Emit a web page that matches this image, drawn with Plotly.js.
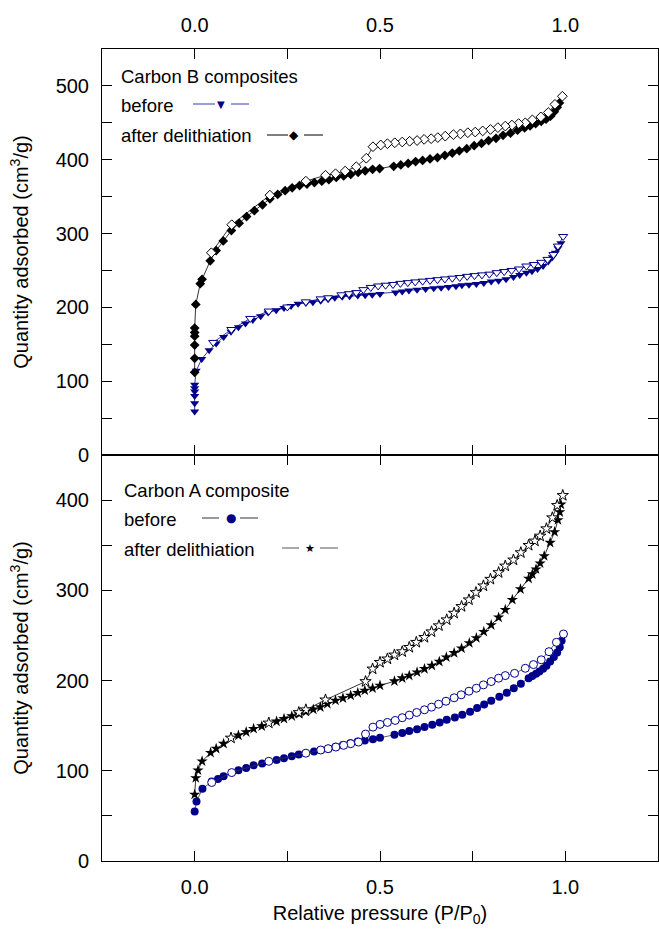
<!DOCTYPE html>
<html>
<head>
<meta charset="utf-8">
<script src="https://cdn.plot.ly/plotly-3.0.1.min.js"></script>
<style>html,body{margin:0;padding:0;background:#fff;}#chart{width:659px;height:930px;}</style>
</head>
<body>
<div id="chart"></div>
<script>
// ---------------- DATA ----------------
// axis ticks (labelled major ticks, unlabelled minor ticks)
const xTickVals = [0, 0.5, 1.0];
const xTickText = ['0.0', '0.5', '1.0'];
const xMinorVals = [-0.25, 0.25, 0.75, 1.25];
const yTopTickVals = [0, 100, 200, 300, 400, 500];
const yTopTickText = ['0', '100', '200', '300', '400', '500'];
const yTopMinorVals = [50, 150, 250, 350, 450, 550];
const yBotTickVals = [0, 100, 200, 300, 400];
const yBotTickText = ['0', '100', '200', '300', '400'];
const yBotMinorVals = [50, 150, 250, 350, 450];

// Top panel: Carbon B composites
// before - adsorption (filled triangles)
const bBeforeAdsP = [0, 0, 0, 0, 0, 0, 0.004, 0.019, 0.039, 0.058, 0.078, 0.098, 0.118, 0.137, 0.157, 0.178, 0.198, 0.22, 0.241, 0.26, 0.279, 0.3, 0.319, 0.34, 0.36, 0.378, 0.398, 0.418, 0.44, 0.46, 0.479, 0.5, 0.542, 0.56, 0.578, 0.6, 0.623, 0.645, 0.665, 0.685, 0.705, 0.721, 0.74, 0.76, 0.78, 0.8, 0.82, 0.84, 0.86, 0.877, 0.895, 0.91, 0.925, 0.94, 0.954, 0.965, 0.973, 0.98, 0.988];
const bBeforeAdsV = [59, 70, 80, 86, 90.5, 95, 114, 130, 142, 151, 160, 167, 173, 178, 183, 188, 193, 196, 199, 202, 205, 206, 207, 209, 211, 213, 214.5, 215, 216, 216.5, 217, 218, 220, 221.5, 223, 224, 225, 226, 226.5, 227.5, 228.5, 230, 230.5, 231.5, 233, 235, 236, 238, 241, 244, 247, 249, 252, 256, 262, 268, 274, 280, 287];
// before - desorption (open triangles)
const bBeforeDesP = [0.994, 0.98, 0.968, 0.952, 0.935, 0.915, 0.895, 0.875, 0.855, 0.835, 0.815, 0.795, 0.775, 0.755, 0.735, 0.715, 0.695, 0.675, 0.655, 0.635, 0.615, 0.595, 0.575, 0.555, 0.535, 0.515, 0.495, 0.475, 0.455, 0.436, 0.416, 0.396, 0.36, 0.34, 0.3, 0.25, 0.2, 0.15, 0.099, 0.05];
const bBeforeDesV = [296, 283, 271.5, 265, 261, 258, 256, 252, 250, 248.5, 247, 245, 244, 243, 242, 240.5, 239.5, 238.5, 237.5, 236.5, 235.5, 234.5, 233.5, 232.5, 231, 230, 229, 227, 224, 220, 218.5, 217, 213, 211.5, 207.5, 200.5, 195, 185, 170, 152.5];
// after delithiation - adsorption (filled diamonds)
const bAfterAdsP = [0, 0, 0, 0, 0, 0, 0.003, 0.015, 0.02, 0.042, 0.058, 0.077, 0.099, 0.12, 0.14, 0.161, 0.183, 0.203, 0.224, 0.244, 0.263, 0.283, 0.303, 0.323, 0.343, 0.362, 0.382, 0.402, 0.421, 0.441, 0.46, 0.48, 0.499, 0.537, 0.556, 0.576, 0.596, 0.615, 0.635, 0.655, 0.675, 0.695, 0.714, 0.734, 0.754, 0.774, 0.793, 0.813, 0.832, 0.852, 0.871, 0.89, 0.905, 0.92, 0.935, 0.948, 0.96, 0.97, 0.978, 0.984];
const bAfterAdsV = [112, 131, 149, 161, 166, 172, 204, 232, 238, 263, 277, 290, 304, 314, 323, 331, 339, 347, 353, 358, 362, 365, 367, 369, 371, 373, 376, 378, 380, 383, 385, 387, 388, 391, 393, 395, 397.5, 399, 401, 403, 406, 409, 412, 415, 419, 422, 426, 429, 433, 436, 440, 443, 446, 449, 452, 455, 459, 465, 471, 477];
// after delithiation - desorption (open diamonds)
const bAfterDesP = [0.992, 0.972, 0.954, 0.934, 0.911, 0.892, 0.874, 0.856, 0.838, 0.818, 0.798, 0.777, 0.757, 0.737, 0.717, 0.698, 0.676, 0.656, 0.638, 0.619, 0.6, 0.58, 0.56, 0.54, 0.52, 0.502, 0.481, 0.463, 0.436, 0.406, 0.38, 0.353, 0.3, 0.203, 0.1, 0.045];
const bAfterDesV = [486, 475, 464, 458, 454, 450, 449, 447, 445.6, 443.5, 441, 439, 437.5, 436.6, 435, 434, 432, 430, 428.5, 427.6, 426, 425, 424, 423, 421.7, 420, 417.6, 402, 390.5, 384.6, 381, 379, 371, 352, 312, 274];

// Bottom panel: Carbon A composite
// before - adsorption (filled circles)
const aBeforeAdsP = [0, 0.005, 0.021, 0.046, 0.063, 0.078, 0.118, 0.139, 0.159, 0.182, 0.221, 0.241, 0.262, 0.281, 0.322, 0.341, 0.361, 0.38, 0.4, 0.42, 0.44, 0.459, 0.481, 0.5, 0.539, 0.56, 0.579, 0.6, 0.62, 0.641, 0.661, 0.68, 0.702, 0.722, 0.743, 0.762, 0.781, 0.8, 0.822, 0.842, 0.861, 0.88, 0.901, 0.911, 0.921, 0.93, 0.94, 0.949, 0.959, 0.969, 0.978, 0.985, 0.99];
const aBeforeAdsV = [55, 66, 80, 88, 91, 94, 100.5, 103, 106, 108, 112, 114, 116, 118, 121.5, 123, 124.5, 126.5, 128.5, 130.5, 132.5, 133.5, 135, 136.5, 140, 142, 144, 146, 148.5, 151, 153.5, 156.5, 159, 162, 165.5, 169.5, 173.5, 177.5, 182, 186.5, 191.5, 196.5, 202.5, 205, 207.5, 210, 213, 216.5, 221, 226, 231, 237, 244];
// before - desorption (open circles)
const aBeforeDesP = [0.995, 0.976, 0.956, 0.935, 0.914, 0.892, 0.863, 0.838, 0.82, 0.8, 0.779, 0.76, 0.74, 0.719, 0.7, 0.678, 0.658, 0.639, 0.62, 0.599, 0.579, 0.56, 0.541, 0.52, 0.5, 0.481, 0.461, 0.442, 0.421, 0.402, 0.381, 0.36, 0.34, 0.3, 0.2, 0.1, 0.046];
const aBeforeDesV = [251.6, 242.4, 232, 223, 217.7, 213.6, 208, 205.5, 202.6, 198.9, 195.2, 191.5, 188.2, 184.2, 180.9, 177.1, 173.8, 170.5, 167.6, 164.6, 161.7, 158.8, 155.8, 153.6, 151.4, 148.4, 140.7, 131.8, 130, 128.2, 126.3, 124.5, 123, 119.5, 110.5, 98, 87];
// after delithiation - adsorption (filled stars)
const aAfterAdsP = [0, 0.003, 0.009, 0.02, 0.043, 0.058, 0.078, 0.118, 0.139, 0.159, 0.181, 0.221, 0.241, 0.262, 0.282, 0.3, 0.32, 0.339, 0.358, 0.38, 0.4, 0.421, 0.44, 0.459, 0.48, 0.5, 0.539, 0.56, 0.579, 0.6, 0.62, 0.64, 0.66, 0.679, 0.7, 0.72, 0.741, 0.76, 0.78, 0.8, 0.82, 0.838, 0.857, 0.879, 0.901, 0.911, 0.921, 0.932, 0.943, 0.959, 0.971, 0.98, 0.985, 0.988];
const aAfterAdsV = [73.7, 92, 100.6, 110.5, 120, 124.5, 130, 139.2, 142.9, 146.6, 149.5, 154.7, 157.7, 160.6, 163, 165.5, 168, 170.5, 174.2, 177.9, 180.5, 183.4, 186.4, 189, 191.5, 194.5, 199.3, 202.6, 205.5, 209.2, 212.9, 216.6, 221, 225.8, 230.6, 235.7, 241.6, 247.2, 254.1, 261.5, 270, 278.5, 289.5, 301.3, 313, 317.9, 323.4, 330, 338, 352.8, 364.6, 377.9, 386.7, 395.2];
// after delithiation - desorption (open stars)
const aAfterDesP = [0.993, 0.978, 0.965, 0.949, 0.932, 0.918, 0.901, 0.88, 0.86, 0.838, 0.82, 0.798, 0.779, 0.759, 0.74, 0.72, 0.7, 0.68, 0.659, 0.639, 0.62, 0.598, 0.579, 0.56, 0.539, 0.52, 0.5, 0.48, 0.461, 0.353, 0.3, 0.281, 0.2, 0.098];
const aAfterDesV = [405.2, 394.1, 380.5, 368.3, 360.2, 354.7, 349.9, 341.8, 333.7, 327, 319.7, 312.3, 305, 297.6, 289.5, 282.1, 274.7, 267.4, 260.8, 254.1, 247.9, 242.4, 236.8, 232, 228.4, 224, 220.2, 212.9, 198.9, 178.6, 167.6, 164.6, 153, 136.3];

// ---------------- STYLE ----------------
const NAVY = '#00008B';
const BLACK = '#000000';
const FONT = 'Liberation Sans, Arial, Helvetica, sans-serif';
const GLYPHFONT = 'DejaVu Sans, sans-serif';

function series(x, y, xa, ya, symbol, size, color, lineColor, open) {
  return {
    type: 'scatter', mode: 'lines+markers', x: x, y: y, xaxis: xa, yaxis: ya,
    showlegend: false, hoverinfo: 'skip',
    line: {color: lineColor, width: 0.8},
    marker: open
      ? {symbol: symbol, size: size, color: '#ffffff', line: {color: color, width: 1}}
      : {symbol: symbol, size: size, color: color, line: {width: 0}}
  };
}

const traces = [
  series(bBeforeAdsP, bBeforeAdsV, 'x2', 'y2', 'triangle-down', 8, NAVY, NAVY, false),
  series(bAfterAdsP, bAfterAdsV, 'x2', 'y2', 'diamond', 7.5, BLACK, BLACK, false),
  series(bBeforeDesP, bBeforeDesV, 'x2', 'y2', 'triangle-down', 8, NAVY, NAVY, true),
  series(bAfterDesP, bAfterDesV, 'x2', 'y2', 'diamond', 7.5, BLACK, BLACK, true),
  series(aBeforeAdsP, aBeforeAdsV, 'x', 'y', 'circle', 8, NAVY, '#333333', false),
  series(aAfterAdsP, aAfterAdsV, 'x', 'y', 'star', 8.5, BLACK, BLACK, false),
  series(aBeforeDesP, aBeforeDesV, 'x', 'y', 'circle', 8, NAVY, '#333333', true),
  series(aAfterDesP, aAfterDesV, 'x', 'y', 'star', 8.5, BLACK, BLACK, true)
];

// ---------------- LAYOUT ----------------
const W = 659, H = 930;
const M = {l: 102, r: 1, t: 49, b: 69};
const PW = W - M.l - M.r, PH = H - M.t - M.b;
const px = v => (v - M.l) / PW;           // pixel -> paper x
const py = v => (H - M.b - v) / PH;       // pixel -> paper y

function axisCommon(minorVals) {
  return {
    showline: true, linecolor: '#000', linewidth: 1, mirror: 'allticks',
    ticks: 'inside', ticklen: 10, tickwidth: 1, tickcolor: '#000',
    showgrid: false, zeroline: false,
    tickfont: {family: FONT, size: 20, color: '#000'},
    ticklabelstandoff: 8,
    minor: {tickmode: 'array', tickvals: minorVals, ticks: 'inside', ticklen: 10, tickwidth: 1, tickcolor: '#000', showgrid: false}
  };
}

const yTitle = 'Quantity adsorbed (cm<sup>3</sup>/g)';

const legendText = [];
const shapes = [];
function legendLabel(x, y, text) {
  legendText.push({xref: 'paper', yref: 'paper', x: px(x), y: py(y), text: text,
    showarrow: false, xanchor: 'left', yanchor: 'middle',
    font: {family: FONT, size: 18.5, color: '#000'}});
}
function legendGlyph(x1, x2, xm, x3, x4, y, lineColor, glyph, glyphColor, glyphSize) {
  shapes.push({type: 'line', xref: 'paper', yref: 'paper', x0: px(x1), x1: px(x2), y0: py(y), y1: py(y), line: {color: lineColor, width: 1}});
  shapes.push({type: 'line', xref: 'paper', yref: 'paper', x0: px(x3), x1: px(x4), y0: py(y), y1: py(y), line: {color: lineColor, width: 1}});
  legendText.push({xref: 'paper', yref: 'paper', x: px(xm), y: py(y), text: glyph,
    showarrow: false, xanchor: 'center', yanchor: 'middle',
    font: {family: GLYPHFONT, size: glyphSize, color: glyphColor}});
}

legendLabel(119, 76, 'Carbon B composites');
legendLabel(119, 105, 'before');
legendLabel(119, 135, 'after delithiation');
legendGlyph(193, 215, 221, 231, 249, 104, '#3a3ab0', '▼', NAVY, 10);
legendGlyph(267, 288, 294, 304, 323, 135, '#000', '◆', BLACK, 12);

legendLabel(122, 490, 'Carbon A composite');
legendLabel(122, 519, 'before');
legendLabel(122, 549, 'after delithiation');
legendGlyph(202, 219, 231, 240, 258, 518, '#333', '●', NAVY, 12);
legendGlyph(282, 299, 310, 320, 338, 548, '#555', '★', BLACK, 11);

const layout = {
  width: W, height: H, margin: M,
  paper_bgcolor: '#fff', plot_bgcolor: '#fff',
  font: {family: FONT, color: '#000'},
  showlegend: false,
  xaxis: Object.assign(axisCommon(xMinorVals), {
    domain: [0, 1], anchor: 'y', range: [-0.25, 1.25],
    tickmode: 'array', tickvals: xTickVals, ticktext: xTickText,
    title: {text: 'Relative pressure (P/P<sub>0</sub>)', font: {family: FONT, size: 20, color: '#000'}, standoff: 8}
  }),
  yaxis: Object.assign(axisCommon(yBotMinorVals), {
    domain: [0, 0.5], anchor: 'x', range: [0, 450],
    tickmode: 'array', tickvals: yBotTickVals, ticktext: yBotTickText,
    title: {text: yTitle, font: {family: FONT, size: 20, color: '#000'}, standoff: 21}
  }),
  xaxis2: Object.assign(axisCommon(xMinorVals), {
    domain: [0, 1], anchor: 'y2', side: 'top', range: [-0.25, 1.25],
    tickmode: 'array', tickvals: xTickVals, ticktext: xTickText
  }),
  yaxis2: Object.assign(axisCommon(yTopMinorVals), {
    domain: [0.5, 1], anchor: 'x2', range: [0, 550],
    tickmode: 'array', tickvals: yTopTickVals, ticktext: yTopTickText,
    title: {text: yTitle, font: {family: FONT, size: 20, color: '#000'}, standoff: 21}
  }),
  annotations: legendText,
  shapes: shapes
};

Plotly.newPlot('chart', traces, layout, {displayModeBar: false, staticPlot: true});
</script>
</body>
</html>
